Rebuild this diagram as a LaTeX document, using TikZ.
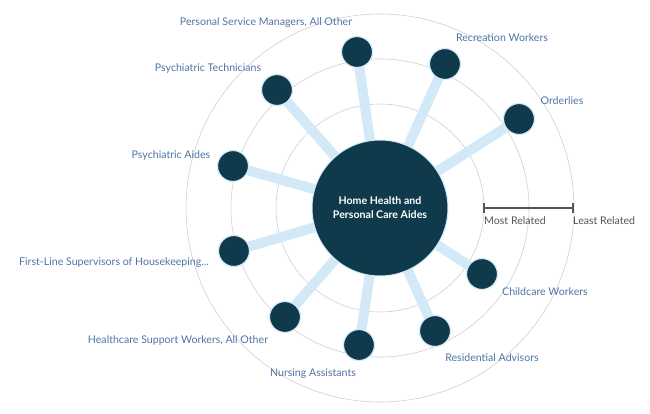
\documentclass[tikz,border=0pt]{standalone}
\usepackage{fontspec}
\setmainfont{Lato}
\usetikzlibrary{backgrounds}
\definecolor{navy}{HTML}{0E3A4C}
\definecolor{link}{HTML}{D4E9F8}
\definecolor{ring}{HTML}{CFCFCF}
\definecolor{lbl}{HTML}{4F73A6}
\definecolor{bar}{HTML}{555555}
\tikzset{
  hub/.style={circle, fill=navy, draw=link, line width=1pt, minimum size=136pt, inner sep=0pt, text=white, font=\bfseries\fontsize{10.6}{14}\selectfont, align=center},
  sat/.style={circle, fill=navy, draw=link, line width=1.2pt, minimum size=31pt, inner sep=0pt},
  conn/.style={draw=link, line width=10pt},
  ringline/.style={draw=ring, line width=0.6pt},
  lab/.style={text=lbl, font=\fontsize{10.6}{12}\selectfont, inner sep=0pt},
  barlab/.style={text=bar, font=\fontsize{10.6}{12}\selectfont, inner sep=0pt, anchor=north west},
}
\begin{document}
\begin{tikzpicture}[x=1pt,y=-1pt]
\useasboundingbox (0,0) rectangle (650,414);
\node[hub] (c) at (380,208) {Home Health and\\Personal Care Aides};
\node[sat] (psm) at (357,52) {};
\node[sat] (rec) at (445,64) {};
\node[sat] (ord) at (519,119) {};
\node[sat] (pt) at (277,90) {};
\node[sat] (pa) at (233,166) {};
\node[sat] (fl) at (234,251) {};
\node[sat] (hs) at (285,317) {};
\node[sat] (na) at (359,345) {};
\node[sat] (ra) at (435,331) {};
\node[sat] (cw) at (482,274) {};
\begin{pgfonlayer}{background}
  \draw[ringline] (c.center) circle (104pt);
  \draw[ringline] (c.center) circle (149pt);
  \draw[ringline] (c.center) circle (194pt);
  \foreach \s in {psm,rec,ord,pt,pa,fl,hs,na,ra,cw} {
    \draw[conn] (c.center) -- (\s.center);
  }
\end{pgfonlayer}
\node[lab] (lpsm) at (266,23) {Personal Service Managers, All Other};
\node[lab] (lrec) at (502,38) {Recreation Workers};
\node[lab] (lord) at (562,101) {Orderlies};
\node[lab] (lpt) at (208,69) {Psychiatric Technicians};
\node[lab] (lpa) at (171,156) {Psychiatric Aides};
\node[lab] (lfl) at (114,263) {First-Line Supervisors of Housekeeping...};
\node[lab] (lhs) at (178,341) {Healthcare Support Workers, All Other};
\node[lab] (lna) at (313,374) {Nursing Assistants};
\node[lab] (lra) at (492,358) {Residential Advisors};
\node[lab] (lcw) at (545,292) {Childcare Workers};
\coordinate (b1) at (484,208);
\coordinate (b2) at (573,208);
\draw[bar, line width=1.8pt] (b1) -- (b2);
\draw[bar, line width=1.5pt] ([yshift=-5pt]b1) -- ([yshift=5pt]b1);
\draw[bar, line width=1.5pt] ([yshift=-5pt]b2) -- ([yshift=5pt]b2);
\node[barlab] (most) at (484,216) {Most Related};
\node[barlab] (least) at (573,216) {Least Related};
\end{tikzpicture}
\end{document}
